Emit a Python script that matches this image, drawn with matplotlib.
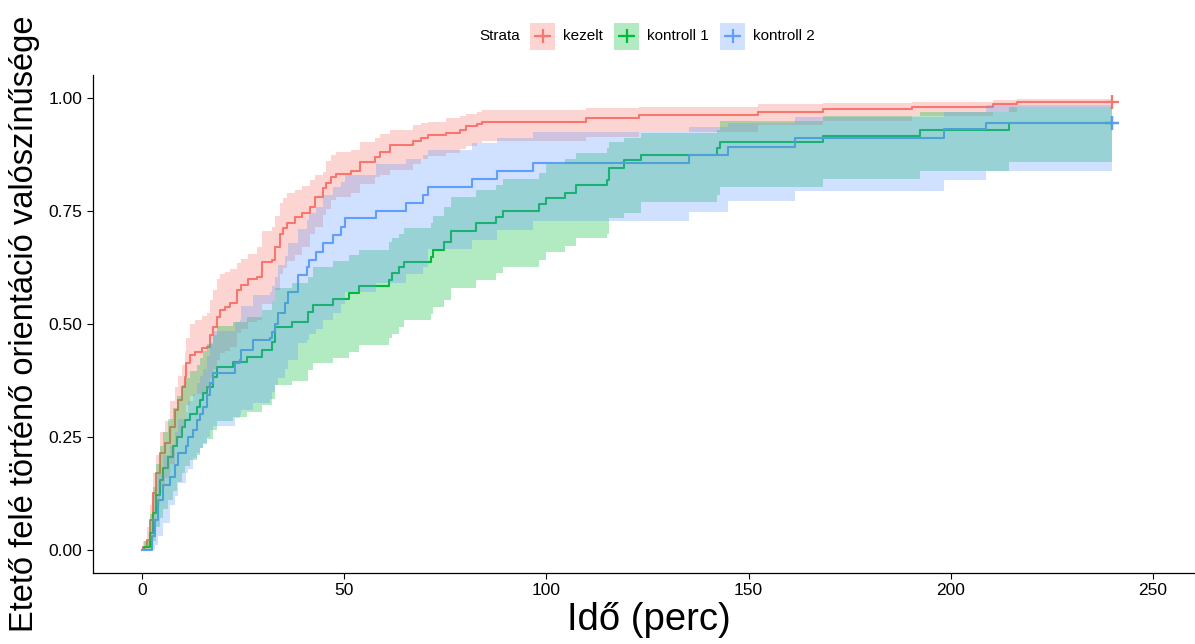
import matplotlib
matplotlib.use("Agg")
import matplotlib.pyplot as plt
from matplotlib.patches import Rectangle
from matplotlib.lines import Line2D

plt.rcParams['font.family'] = ['Liberation Sans', 'DejaVu Sans']

# --- kezelt ---
t_kezelt = [0, 0.3, 1.2, 2.0, 2.8, 3.6, 4.5, 5.7, 6.9, 8.2, 9.0, 9.8, 10.6, 11.0, 11.9,
            13.1, 14.8, 16.0, 16.8, 17.6, 18.5, 19.3, 20.5, 21.8, 23.4, 24.6, 26.3, 28.4, 29.6, 32.1,
            33.0, 34.1, 35.0, 36.0, 37.8, 39.5, 41.5, 42.7, 44.8, 45.6, 46.8, 48.1, 51.8, 53.9, 57.6,
            58.8, 61.3, 67.1, 69.1, 70.8, 75.3, 78.6, 80.2, 82.8, 84.0, 109.8, 123.0, 152.4, 168.5, 190.3,
            210.5, 216.3, 240]
s_kezelt = [0, 0.007, 0.022, 0.066, 0.125, 0.170, 0.214, 0.236, 0.273, 0.310, 0.332, 0.361, 0.383, 0.413, 0.431,
            0.439, 0.446, 0.450, 0.476, 0.494, 0.516, 0.531, 0.538, 0.547, 0.575, 0.586, 0.600, 0.605, 0.638, 0.642,
            0.670, 0.700, 0.712, 0.723, 0.737, 0.745, 0.760, 0.782, 0.800, 0.811, 0.826, 0.833, 0.838, 0.859, 0.870,
            0.881, 0.896, 0.904, 0.911, 0.918, 0.922, 0.930, 0.938, 0.942, 0.948, 0.957, 0.962, 0.970, 0.975, 0.981,
            0.986, 0.992, 0.992]
hi_kezelt = [0, 0.02, 0.05, 0.10, 0.17, 0.21, 0.26, 0.285, 0.33, 0.36, 0.385, 0.41, 0.44, 0.47, 0.50,
             0.51, 0.518, 0.525, 0.553, 0.575, 0.60, 0.61, 0.615, 0.622, 0.636, 0.645, 0.655, 0.671, 0.705, 0.715,
             0.74, 0.767, 0.778, 0.789, 0.797, 0.805, 0.819, 0.83, 0.837, 0.86, 0.875, 0.881, 0.885, 0.903, 0.911,
             0.92, 0.929, 0.94, 0.945, 0.948, 0.955, 0.96, 0.965, 0.97, 0.973, 0.978, 0.98, 0.986, 0.988, 0.991,
             0.996, 0.999, 0.999]
lo_kezelt = [0, 0, 0, 0.02, 0.06, 0.10, 0.14, 0.16, 0.19, 0.23, 0.25, 0.27, 0.29, 0.32, 0.34,
             0.345, 0.35, 0.355, 0.38, 0.40, 0.42, 0.435, 0.44, 0.45, 0.48, 0.49, 0.505, 0.51, 0.545, 0.55,
             0.575, 0.61, 0.625, 0.64, 0.652, 0.67, 0.70, 0.715, 0.741, 0.755, 0.775, 0.782, 0.79, 0.81, 0.826,
             0.83, 0.84, 0.855, 0.865, 0.872, 0.878, 0.888, 0.895, 0.90, 0.905, 0.914, 0.925, 0.94, 0.95, 0.96,
             0.97, 0.981, 0.981]

# --- kontroll 1 ---
t_k1 = [0, 0.5, 2.0, 2.8, 3.6, 4.5, 5.3, 6.5, 7.7, 8.6, 9.8, 10.6, 11.9, 13.5, 14.3,
        15.2, 16.0, 17.6, 18.5, 22.6, 25.9, 29.6, 32.1, 32.9, 37.2, 41.1, 42.4, 47.2, 51.1, 53.8,
        61.0, 61.9, 63.5, 64.8, 71.4, 72.1, 74.7, 76.4, 82.5, 87.5, 89.4, 98.2, 100.0, 104.6, 107.3,
        114.9, 115.5, 119.2, 123.3, 142.3, 143.0, 168.3, 192.4, 214.5, 240]
s_k1 = [0, 0.007, 0.037, 0.081, 0.122, 0.155, 0.181, 0.206, 0.229, 0.251, 0.273, 0.288, 0.302, 0.317, 0.332,
        0.347, 0.361, 0.383, 0.404, 0.415, 0.428, 0.442, 0.461, 0.494, 0.505, 0.527, 0.542, 0.555, 0.568, 0.584,
        0.597, 0.612, 0.627, 0.638, 0.649, 0.664, 0.682, 0.706, 0.723, 0.737, 0.750, 0.765, 0.778, 0.791, 0.808,
        0.819, 0.846, 0.862, 0.874, 0.889, 0.903, 0.917, 0.929, 0.944, 0.944]
hi_k1 = [0, 0.02, 0.08, 0.14, 0.19, 0.23, 0.26, 0.29, 0.315, 0.34, 0.365, 0.38, 0.395, 0.41, 0.425,
         0.44, 0.455, 0.475, 0.495, 0.505, 0.515, 0.53, 0.55, 0.58, 0.59, 0.605, 0.627, 0.64, 0.652, 0.664,
         0.682, 0.69, 0.70, 0.712, 0.723, 0.74, 0.76, 0.782, 0.796, 0.808, 0.822, 0.835, 0.855, 0.866, 0.878,
         0.89, 0.903, 0.911, 0.922, 0.93, 0.949, 0.96, 0.97, 0.98, 0.98]
lo_k1 = [0, 0, 0, 0.02, 0.05, 0.07, 0.09, 0.11, 0.13, 0.15, 0.17, 0.185, 0.20, 0.21, 0.225,
         0.235, 0.245, 0.265, 0.285, 0.295, 0.305, 0.32, 0.335, 0.365, 0.375, 0.398, 0.413, 0.424, 0.439, 0.453,
         0.468, 0.479, 0.494, 0.509, 0.523, 0.538, 0.553, 0.579, 0.597, 0.612, 0.627, 0.642, 0.659, 0.673, 0.69,
         0.70, 0.734, 0.745, 0.771, 0.785, 0.804, 0.82, 0.839, 0.859, 0.859]

# --- kontroll 2 ---
t_k2 = [0, 2.4, 3.2, 4.0, 5.3, 6.9, 8.2, 9.0, 11.0, 11.5, 12.7, 13.5, 14.3, 15.2, 16.0,
        16.8, 17.6, 23.0, 24.2, 24.6, 27.5, 31.7, 32.1, 32.9, 33.7, 35.4, 36.2, 38.6, 40.7, 41.4,
        43.0, 44.8, 47.3, 49.3, 50.2, 58.0, 65.2, 69.5, 70.7, 81.7, 87.7, 96.8, 135.3, 145.0, 161.5,
        198.3, 208.7, 240]
s_k2 = [0, 0.030, 0.066, 0.111, 0.144, 0.162, 0.188, 0.214, 0.229, 0.251, 0.265, 0.288, 0.302, 0.317, 0.343,
        0.369, 0.391, 0.413, 0.420, 0.442, 0.465, 0.468, 0.483, 0.501, 0.524, 0.546, 0.571, 0.608, 0.627, 0.642,
        0.660, 0.679, 0.697, 0.715, 0.734, 0.750, 0.767, 0.785, 0.804, 0.822, 0.839, 0.857, 0.875, 0.892, 0.911,
        0.931, 0.944, 0.944]
hi_k2 = [0, 0.07, 0.12, 0.17, 0.21, 0.23, 0.26, 0.29, 0.305, 0.33, 0.345, 0.37, 0.385, 0.40, 0.43,
         0.46, 0.485, 0.505, 0.51, 0.54, 0.565, 0.57, 0.585, 0.605, 0.63, 0.65, 0.68, 0.71, 0.73, 0.745,
         0.76, 0.785, 0.804, 0.815, 0.83, 0.855, 0.865, 0.874, 0.885, 0.90, 0.912, 0.925, 0.937, 0.945, 0.958,
         0.97, 0.985, 0.985]
lo_k2 = [0, 0, 0.01, 0.03, 0.06, 0.10, 0.12, 0.148, 0.17, 0.18, 0.203, 0.215, 0.225, 0.236, 0.251,
         0.265, 0.275, 0.291, 0.298, 0.31, 0.325, 0.335, 0.35, 0.365, 0.38, 0.40, 0.42, 0.457, 0.465, 0.479,
         0.49, 0.509, 0.524, 0.545, 0.57, 0.59, 0.61, 0.627, 0.667, 0.686, 0.708, 0.728, 0.749, 0.772, 0.794,
         0.819, 0.839, 0.839]

strata = ["kezelt", "kontroll 1", "kontroll 2"]
colors = ["#F8766D", "#00BA38", "#619CFF"]
x_ticks = [0, 50, 100, 150, 200, 250]
y_ticks = [0, 0.25, 0.5, 0.75, 1.0]

series = [
    (t_kezelt, s_kezelt, lo_kezelt, hi_kezelt),
    (t_k1, s_k1, lo_k1, hi_k1),
    (t_k2, s_k2, lo_k2, hi_k2),
]

W, H = 1195, 644
fig = plt.figure(figsize=(W / 100, H / 100), dpi=100)
ax = fig.add_axes([0.0778, 0.1102, 0.9222, 0.7733])

# lines first, then ribbons on top (as in the original layer order)
for (t, s, lo, hi), col in zip(series, colors):
    ax.step(t, s, where='post', color=col, lw=1.5, zorder=2)
    ax.plot(t[-1], s[-1], marker='+', color=col, ms=10, mew=1.6, zorder=2)
for (t, s, lo, hi), col in zip(series, colors):
    ax.fill_between(t, lo, hi, step='post', color=col, alpha=0.3, lw=0, zorder=3)

ax.set_xlim(-12.1, 260.4)
ax.set_ylim(-0.051, 1.051)
ax.set_xticks(x_ticks)
ax.set_yticks(y_ticks)
ax.set_xticklabels([str(v) for v in x_ticks])
ax.set_yticklabels([f"{v:.2f}" for v in y_ticks])
ax.tick_params(axis='both', labelsize=12.5, length=4, width=0.8, colors='black')
for side in ['top', 'right']:
    ax.spines[side].set_visible(False)
for side in ['left', 'bottom']:
    ax.spines[side].set_linewidth(0.9)

ax.set_xlabel("Idő (perc)", fontsize=27.5, labelpad=2)
ax.xaxis.set_label_coords(0.5045, -0.058)
ax.set_ylabel("Etető felé történő orientáció valószínűsége", fontsize=23.5, labelpad=6)

# legend drawn by hand on top of the plot (pixel layout)
key_left = [530, 614, 720]
key_w, key_h = 25, 27
leg_y = 36
fig.text(520 / W, 1 - leg_y / H, "Strata", ha='right', va='center', fontsize=11)
for x0, col, lab in zip(key_left, colors, strata):
    fig.add_artist(Rectangle((x0 / W, 1 - (leg_y + key_h / 2) / H), key_w / W, key_h / H,
                             transform=fig.transFigure, facecolor=col, alpha=0.3, edgecolor='none'))
    fig.add_artist(Line2D([(x0 + 5) / W, (x0 + key_w - 5) / W], [1 - leg_y / H] * 2,
                          transform=fig.transFigure, color=col, lw=1.5))
    fig.add_artist(Line2D([(x0 + key_w / 2) / W], [1 - leg_y / H], transform=fig.transFigure,
                          color=col, marker='+', ms=10, mew=1.6, linestyle='none'))
    fig.text((x0 + key_w + 8) / W, 1 - leg_y / H, lab, ha='left', va='center', fontsize=11)

fig.savefig("out.png", dpi=100)
